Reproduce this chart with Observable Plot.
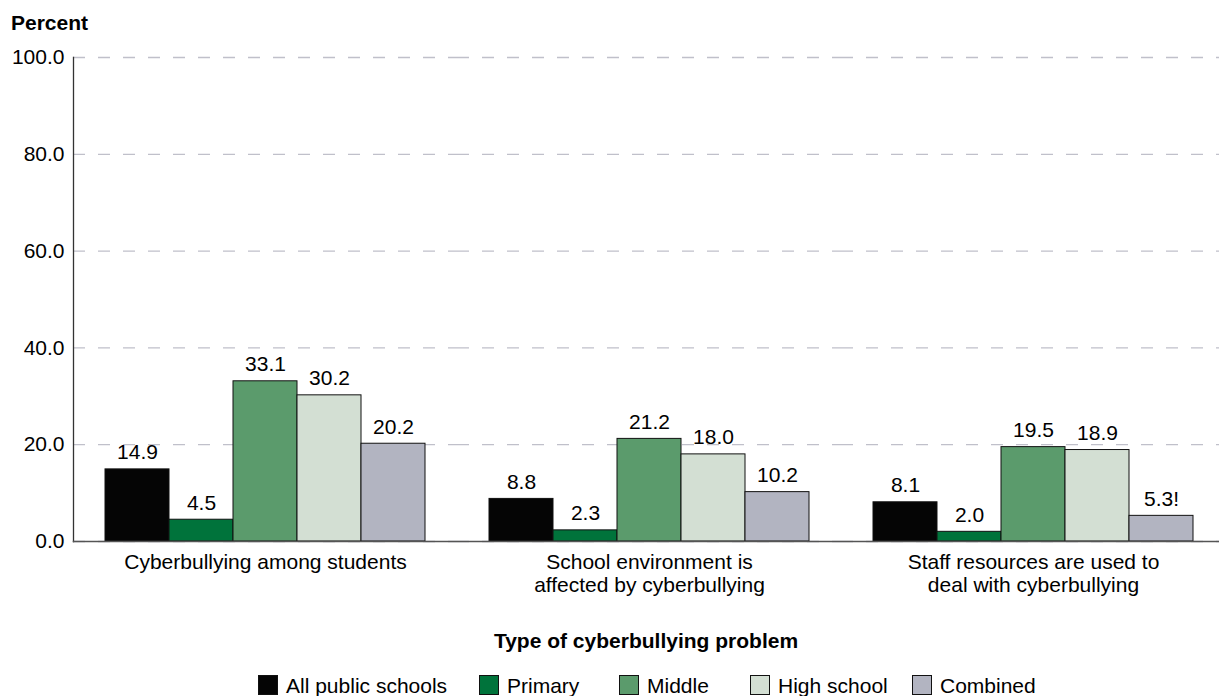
<!DOCTYPE html>
<html><head><meta charset="utf-8">
<script src="https://cdn.jsdelivr.net/npm/d3@7"></script>
<script src="https://cdn.jsdelivr.net/npm/@observablehq/plot@0.6"></script>
<style>
body{margin:0;background:#fff;font-family:"Liberation Sans",Arial,sans-serif;color:#000;}
#wrap{position:relative;width:1219px;height:696px;overflow:hidden;background:#fff}
#ylab{position:absolute;left:11px;top:12px;font-weight:bold;font-size:21px;line-height:21px;}
#xtitle{position:absolute;left:73px;width:1146px;top:630px;text-align:center;font-weight:bold;font-size:21px;line-height:21px;}
.lg{position:absolute;top:675px;height:21px;font-size:21px;line-height:21px;white-space:nowrap;}
.sw{position:absolute;left:0;top:0;width:18px;height:18px;border:1px solid #111;}
.lt{position:absolute;left:28px;top:0px;}
#chart{position:absolute;left:0;top:0;width:1225px}
#chart svg{max-width:none !important;}
</style></head><body>
<div id="wrap"><div id="chart"></div><div id="ylab">Percent</div><div id="xtitle">Type of cyberbullying problem</div></div>
<script>
// ---- data ----
const groups = ["Cyberbullying among students", "School environment is affected by cyberbullying", "Staff resources are used to deal with cyberbullying"];
const groupLabels = ["Cyberbullying among students", "School environment is\naffected by cyberbullying", "Staff resources are used to\ndeal with cyberbullying"];
const series = ["All public schools", "Primary", "Middle", "High school", "Combined"];
const allPublic = [14.9, 8.8, 8.1];
const primary = [4.5, 2.3, 2.0];
const middle = [33.1, 21.2, 19.5];
const highSchool = [30.2, 18.0, 18.9];
const combined = [20.2, 10.2, 5.3];
const combinedFlags = ["", "", "!"];
const colors = ["#050505", "#00733b", "#5b9b6c", "#d3dfd3", "#b2b4c1"];
const yTicks = [0, 20, 40, 60, 80, 100];
const legendX = [258, 479, 619, 750, 912];

const seriesValues = [allPublic, primary, middle, highSchool, combined];
const rows = [];
groups.forEach((g, gi) => {
  series.forEach((s, si) => {
    const v = seriesValues[si][gi];
    const flag = si === 4 ? combinedFlags[gi] : "";
    rows.push({group: g, series: s, value: v, label: v.toFixed(1) + flag});
  });
});

const plot = Plot.plot({
  width: 1225, height: 610,
  marginLeft: 73, marginRight: 0, marginTop: 57, marginBottom: 69,
  style: {fontFamily: '"Liberation Sans", Arial, sans-serif', fontSize: "21px", color: "#000", background: "transparent", overflow: "visible", maxWidth: "none"},
  fx: {domain: groups, padding: 0, label: null},
  x: {domain: series, paddingInner: 0, paddingOuter: 0.5, axis: null},
  y: {domain: [0, 100], label: null},
  color: {domain: series, range: colors},
  marks: [
    Plot.gridY(yTicks, {stroke: "#c0c0ca", strokeOpacity: 1, strokeWidth: 1.3, strokeDasharray: "12,13"}),
    Plot.barY(rows, {fx: "group", x: "series", y: "value", fill: "series", stroke: "#111", strokeWidth: 1}),
    Plot.text(rows, {fx: "group", x: "series", y: "value", text: "label", lineAnchor: "bottom", dy: -10, fontSize: 21, fill: "#000"}),
    Plot.axisY({ticks: yTicks, tickSize: 0, tickPadding: 9, tickFormat: d => d.toFixed(1), label: null, fontSize: 21}),
    Plot.axisFx({anchor: "bottom", tickSize: 0, tickPadding: 11, tickFormat: d => groupLabels[groups.indexOf(d)], label: null, fontSize: 21, lineHeight: 1.1}),
    Plot.frame({anchor: "left", facet: "super", stroke: "#333", strokeWidth: 1.3}),
    Plot.frame({anchor: "bottom", facet: "super", stroke: "#555", strokeWidth: 1.5})
  ]
});
document.getElementById("chart").appendChild(plot);

const wrap = document.getElementById("wrap");
series.forEach((s, i) => {
  const d = document.createElement("div");
  d.className = "lg";
  d.style.left = legendX[i] + "px";
  const sw = document.createElement("div");
  sw.className = "sw";
  sw.style.background = colors[i];
  const t = document.createElement("div");
  t.className = "lt";
  t.textContent = s;
  d.appendChild(sw); d.appendChild(t);
  wrap.appendChild(d);
});
</script>
</body></html>
